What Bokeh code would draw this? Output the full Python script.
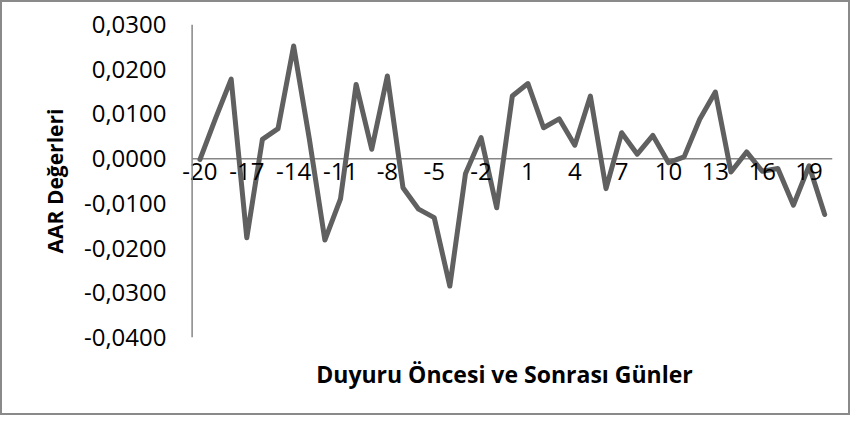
from bokeh.plotting import figure
from bokeh.models import FixedTicker, Range1d, Span, LinearAxis
from bokeh.embed import file_html
from bokeh.resources import INLINE

days = list(range(-20, 21))
aar = [-0.0002, 0.0090, 0.0178, -0.0177, 0.0043, 0.0067, 0.0252, 0.0045,
       -0.0182, -0.0090, 0.0166, 0.0021, 0.0185, -0.0065, -0.0113, -0.0132,
       -0.0285, -0.0034, 0.0047, -0.0110, 0.0140, 0.0168, 0.0069, 0.0089,
       0.0030, 0.0140, -0.0067, 0.0058, 0.0010, 0.0052, -0.0009, 0.0004,
       0.0088, 0.0149, -0.0030, 0.0015, -0.0028, -0.0022, -0.0104, -0.0016,
       -0.0125]
x_ticks = [-20, -17, -14, -11, -8, -5, -2, 1, 4, 7, 10, 13, 16, 19]
y_ticks = [-0.04, -0.03, -0.02, -0.01, 0.0, 0.01, 0.02, 0.03]
y_tick_labels = ["-0,0400", "-0,0300", "-0,0200", "-0,0100", "0,0000",
                 "0,0100", "0,0200", "0,0300"]
x_title = "Duyuru Öncesi ve Sonrası Günler"
y_title = "AAR Değerleri"

FONT = "Open Sans"
AXIS_COLOR = "#868686"

x_lo = days[0] - 0.5
x_hi = days[-1] + 0.5

p = figure(width=850, height=415, output_backend="svg", toolbar_location=None,
           x_range=Range1d(x_lo - 1, x_hi), y_range=Range1d(-0.04, 0.03),
           x_axis_location=None,
           min_border_left=174, min_border_right=20, min_border_top=22,
           min_border_bottom=80)
p.styles = {"border": "2px solid #8a8a8a"}
p.outline_line_color = None
p.grid.visible = False
p.background_fill_color = "white"
p.border_fill_color = "white"

# vertical axis line and zero line
p.add_layout(Span(location=x_lo, dimension="height", line_color=AXIS_COLOR,
                  line_width=1.5))
p.segment(x0=[x_lo], y0=[0], x1=[x_hi], y1=[0], line_color=AXIS_COLOR,
          line_width=1.5)

p.line(days, aar, line_color="#606060", line_width=5, line_join="round",
       line_cap="round")

# axis carrying the x title (below frame)
title_axis = LinearAxis(ticker=FixedTicker(ticks=[]), axis_line_color=None,
                        major_tick_line_color=None, minor_tick_line_color=None,
                        major_tick_out=0, axis_label=x_title,
                        axis_label_text_font=FONT,
                        axis_label_text_font_style="bold",
                        axis_label_text_font_size="23px",
                        axis_label_text_color="black",
                        axis_label_standoff=20)
p.add_layout(title_axis, "below")

# x tick labels crossing at y = 0
xa = LinearAxis(fixed_location=0, ticker=FixedTicker(ticks=x_ticks),
                axis_line_color=None, major_tick_line_color=None,
                minor_tick_line_color=None, major_tick_out=0,
                major_label_standoff=4, major_label_text_font=FONT,
                major_label_text_font_size="24px",
                major_label_text_color="black",
                major_label_overrides={t: str(t) for t in x_ticks})
p.add_layout(xa, "below")

ya = p.yaxis[0]
ya.ticker = FixedTicker(ticks=y_ticks)
ya.major_label_overrides = {t: s for t, s in zip(y_ticks, y_tick_labels)}
ya.axis_line_color = None
ya.major_tick_line_color = None
ya.minor_tick_line_color = None
ya.major_tick_out = 0
ya.major_label_standoff = 10
ya.major_label_text_font = FONT
ya.major_label_text_font_size = "24px"
ya.major_label_text_color = "black"
ya.axis_label = y_title
ya.axis_label_text_font = FONT
ya.axis_label_text_font_style = "bold"
ya.axis_label_text_font_size = "21px"
ya.axis_label_text_color = "black"
ya.axis_label_standoff = 12

open("out.html", "w").write(file_html(p, INLINE))
